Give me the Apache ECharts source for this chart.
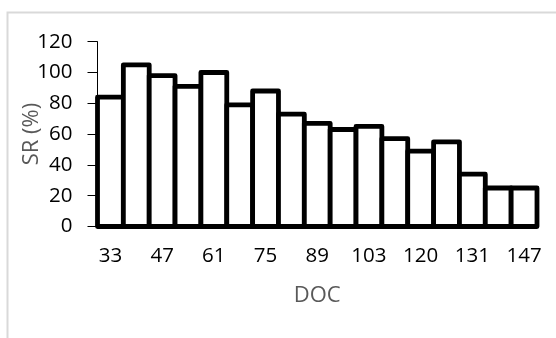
<!DOCTYPE html>
<html>
<head>
<meta charset="utf-8">
<script src="https://cdn.jsdelivr.net/npm/echarts@6/dist/echarts.min.js"></script>
<style>
html,body{margin:0;padding:0;background:#fff;}
#chart{width:556px;height:338px;}
</style>
</head>
<body>
<div id="chart"></div>
<script>
const categories = ['33','40','47','54','61','68','75','82','89','96','103','110','120','124','131','138','147'];
const srValues = [84, 105, 98, 91, 100, 79, 88, 73, 67, 63, 65, 57, 49, 55, 34, 25, 25];
const yTicks = [0, 20, 40, 60, 80, 100, 120];
const xAxisName = 'DOC';
const yAxisName = 'SR (%)';

const FONT = 'Open Sans';
const chart = echarts.init(document.getElementById('chart'), null, {renderer: 'canvas'});
chart.setOption({
  animation: false,
  backgroundColor: '#fff',
  graphic: [{
    type: 'rect',
    shape: {x: 7.5, y: 12.5, width: 600, height: 400},
    style: {fill: 'none', stroke: '#d9d9d9', lineWidth: 2},
    silent: true, z: -1
  }],
  grid: {left: 97.5, right: 19, top: 41.7, bottom: 111.5, containLabel: false, outerBoundsMode: 'none'},
  xAxis: {
    type: 'category',
    data: categories,
    name: xAxisName,
    nameLocation: 'middle',
    nameGap: 58,
    nameMoveOverlap: false,
    nameTextStyle: {color: '#595959', fontSize: 22, fontFamily: FONT},
    axisLine: {show: true, lineStyle: {color: '#000', width: 1}},
    axisTick: {show: false},
    axisLabel: {interval: 1, color: '#000', fontSize: 20.5, fontFamily: FONT, margin: 19}
  },
  yAxis: {
    type: 'value',
    min: yTicks[0],
    max: yTicks[yTicks.length - 1],
    interval: 20,
    name: yAxisName,
    nameLocation: 'middle',
    nameGap: 54.5,
    nameMoveOverlap: false,
    nameTextStyle: {color: '#595959', fontSize: 22, fontFamily: FONT},
    axisLine: {show: true, lineStyle: {color: '#000', width: 1}},
    axisTick: {show: true, inside: false, length: 10, lineStyle: {color: '#000', width: 1}},
    axisLabel: {color: '#000', fontSize: 20.5, fontFamily: FONT, margin: 25},
    splitLine: {show: false}
  },
  series: [{
    type: 'custom',
    data: srValues.map((v, i) => [i, v]),
    encode: {x: 0, y: 1},
    clip: false,
    renderItem: function (params, api) {
      const top = api.coord([api.value(0), api.value(1)]);
      const base = api.coord([api.value(0), 0]);
      const w = api.size([1, 0])[0];
      return {
        type: 'rect',
        shape: {x: top[0] - w / 2, y: top[1], width: w, height: base[1] - top[1]},
        style: {fill: '#fff', stroke: '#000', lineWidth: 4.8, lineJoin: 'round'}
      };
    },
    emphasis: {disabled: true}
  }]
});
</script>
</body>
</html>
